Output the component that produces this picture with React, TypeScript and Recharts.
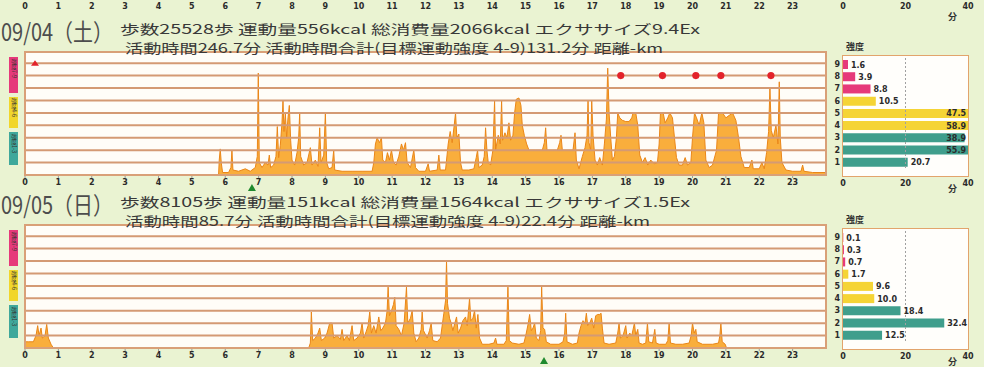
import { ComposedChart, Area, Scatter, XAxis, YAxis, CartesianGrid, ReferenceDot, ReferenceLine, BarChart, Bar, Cell, LabelList } from 'recharts'

// hour ticks (0-23) and intensity levels on the activity chart
const hourTicks = [0, 1, 2, 3, 4, 5, 6, 7, 8, 9, 10, 11, 12, 13, 14, 15, 16, 17, 18, 19, 20, 21, 22, 23]
const levelTicks = [0, 1, 2, 3, 4, 5, 6, 7, 8, 9]

// right-hand panel: minutes spent at each intensity level
const intensityLevels = ['9', '8', '7', '6', '5', '4', '3', '2', '1']
const minuteTicks = [0, 20, 40]
const day1Minutes = [1.6, 3.9, 8.8, 10.5, 47.5, 58.9, 38.9, 55.9, 20.7]
const day2Minutes = [0.1, 0.3, 0.7, 1.7, 9.6, 10.0, 18.4, 32.4, 12.5]

const day1Date = '09/04（土）'
const day1Line1 = '歩数25528歩 運動量556kcal 総消費量2066kcal エクササイズ9.4Ex'
const day1Line2 = '活動時間246.7分 活動時間合計(目標運動強度 4-9)131.2分 距離-km'
const day2Date = '09/05（日）'
const day2Line1 = '歩数8105歩 運動量151kcal 総消費量1564kcal エクササイズ1.5Ex'
const day2Line2 = '活動時間85.7分 活動時間合計(目標運動強度 4-9)22.4分 距離-km'

// [hour, intensity]
const day1Activity = [
  [0, 0], [5.8, 0], [5.82, 1.2], [5.85, 2.1], [5.88, 1.0], [5.92, 0.2],
  [6.1, 0.2], [6.17, 0.6], [6.2, 2.0], [6.23, 0.4], [6.4, 0.3], [6.6, 0.5], [6.75, 0.3], [6.9, 0.6],
  [6.96, 1.5], [6.99, 8.2], [7.02, 1.0], [7.1, 0.6], [7.2, 1.0], [7.28, 0.8], [7.32, 1.6], [7.36, 0.6],
  [7.45, 0.8], [7.52, 1.5], [7.56, 3.9], [7.6, 1.4], [7.65, 2.4], [7.7, 4.2], [7.73, 6.0], [7.76, 3.5],
  [7.8, 5.0], [7.84, 3.0], [7.88, 4.6], [7.92, 5.6], [7.96, 2.8], [8.0, 1.2], [8.08, 0.8], [8.15, 1.8],
  [8.2, 3.0], [8.23, 5.0], [8.26, 1.5], [8.35, 0.8], [8.45, 1.0], [8.55, 2.2], [8.6, 0.8], [8.7, 1.2],
  [8.78, 0.7], [8.83, 3.8], [8.87, 1.0], [8.95, 1.6], [9.0, 5.0], [9.04, 1.0], [9.1, 0.5],
  [9.2, 0.6], [9.25, 2.0], [9.28, 0.4], [9.5, 0.3], [9.8, 0.3], [10.1, 0.3], [10.4, 0.3],
  [10.45, 1.0], [10.5, 2.5], [10.55, 3.0], [10.62, 2.6], [10.68, 3.0], [10.72, 1.2], [10.8, 1.0],
  [10.86, 1.8], [10.92, 1.2], [10.98, 2.0], [11.04, 1.0], [11.12, 0.8], [11.2, 1.5], [11.28, 2.5],
  [11.34, 2.0], [11.4, 2.6], [11.45, 1.0], [11.55, 0.6], [11.65, 2.0], [11.7, 0.6], [11.8, 0.3],
  [12.0, 0.3], [12.08, 0.9], [12.12, 0.3], [12.35, 0.4], [12.4, 1.6], [12.44, 0.4], [12.6, 0.4],
  [12.68, 2.5], [12.74, 3.5], [12.8, 2.6], [12.86, 4.0], [12.9, 5.0], [12.94, 3.0], [13.0, 3.3],
  [13.05, 1.0], [13.1, 0.4], [13.3, 0.4], [13.45, 0.5], [13.52, 1.4], [13.56, 2.0], [13.6, 0.6],
  [13.7, 0.8], [13.76, 1.5], [13.8, 3.8], [13.84, 2.0], [13.88, 1.0], [13.95, 0.8], [14.02, 2.0],
  [14.07, 6.0], [14.1, 2.0], [14.18, 3.2], [14.24, 2.5], [14.28, 6.0], [14.31, 2.8], [14.38, 3.4],
  [14.44, 3.0], [14.5, 4.2], [14.55, 2.8], [14.62, 3.2], [14.67, 5.0], [14.72, 6.1], [14.8, 6.2],
  [14.86, 5.6], [14.9, 4.0], [14.96, 3.2], [15.03, 2.5], [15.1, 2.0], [15.3, 2.0], [15.5, 2.0],
  [15.56, 2.6], [15.6, 3.8], [15.64, 2.0], [15.8, 2.0], [15.95, 2.0], [16.02, 2.6], [16.06, 3.2],
  [16.1, 2.0], [16.3, 2.0], [16.42, 2.0], [16.48, 3.4], [16.52, 1.2], [16.6, 0.5], [16.7, 1.5],
  [16.78, 2.2], [16.84, 3.2], [16.87, 6.0], [16.9, 2.6], [16.95, 2.0], [16.98, 6.0], [17.02, 3.2],
  [17.08, 1.2], [17.15, 0.8], [17.22, 1.4], [17.3, 0.8], [17.36, 2.5], [17.42, 4.5], [17.46, 8.6],
  [17.5, 5.0], [17.55, 3.0], [17.6, 1.2], [17.66, 1.5], [17.72, 3.0], [17.76, 5.0], [17.82, 4.6],
  [17.9, 4.4], [18.0, 4.3], [18.1, 4.3], [18.18, 4.6], [18.22, 5.0], [18.3, 5.0], [18.36, 4.0],
  [18.42, 1.6], [18.5, 1.0], [18.58, 1.4], [18.66, 0.8], [18.75, 1.2], [18.85, 0.9], [18.95, 1.0],
  [19.0, 2.5], [19.04, 5.0], [19.12, 5.0], [19.18, 4.2], [19.26, 4.6], [19.32, 5.0], [19.4, 4.6],
  [19.46, 3.0], [19.52, 1.4], [19.6, 0.8], [19.7, 0.8], [19.78, 1.4], [19.85, 0.8], [19.95, 1.0],
  [20.0, 3.0], [20.06, 5.0], [20.12, 4.6], [20.2, 4.0], [20.28, 5.0], [20.34, 4.2], [20.4, 1.2],
  [20.5, 0.6], [20.6, 0.8], [20.72, 2.0], [20.78, 5.0], [20.9, 5.0], [21.0, 4.6], [21.1, 4.8],
  [21.2, 5.0], [21.3, 4.4], [21.38, 3.0], [21.45, 1.5], [21.55, 0.6], [21.7, 0.6], [21.78, 1.2],
  [21.82, 0.5], [22.0, 0.5], [22.08, 1.0], [22.15, 0.5], [22.22, 1.8], [22.28, 3.5], [22.32, 7.0],
  [22.36, 3.6], [22.42, 3.0], [22.5, 4.0], [22.56, 2.5], [22.6, 7.5], [22.63, 3.0], [22.68, 1.0],
  [22.8, 0.4], [23.0, 0.3], [23.25, 0.3], [23.3, 0.8], [23.34, 0.3], [23.6, 0.2], [24, 0.2],
]

const day2Activity = [
  [0, 0.5], [0.1, 0.5], [0.25, 0.5], [0.33, 1.0], [0.38, 1.8], [0.42, 1.0], [0.48, 1.6], [0.52, 0.8],
  [0.6, 1.0], [0.65, 1.9], [0.7, 0.8], [0.78, 0.3], [0.85, 0], [8.5, 0],
  [8.55, 0.4], [8.58, 2.9], [8.62, 0.6], [8.7, 0.8], [8.78, 1.2], [8.83, 1.6], [8.88, 0.6], [8.98, 0.8],
  [9.05, 1.2], [9.13, 2.0], [9.2, 2.0], [9.25, 0.8], [9.35, 1.0], [9.45, 0.7], [9.5, 1.5], [9.55, 0.6],
  [9.65, 1.0], [9.72, 0.6], [9.8, 1.8], [9.85, 0.6], [9.95, 0.8], [10.05, 1.2], [10.1, 2.0], [10.15, 0.8],
  [10.22, 1.3], [10.28, 1.8], [10.33, 2.9], [10.38, 1.2], [10.45, 1.8], [10.52, 1.2], [10.6, 2.5],
  [10.66, 1.4], [10.72, 1.6], [10.8, 2.0], [10.85, 3.0], [10.88, 4.9], [10.92, 2.6], [10.98, 3.0],
  [11.04, 3.5], [11.08, 4.1], [11.12, 1.8], [11.2, 1.5], [11.28, 1.0], [11.36, 2.0], [11.43, 4.9],
  [11.47, 2.0], [11.55, 2.4], [11.6, 3.0], [11.65, 1.2], [11.72, 0.5], [11.8, 0.8], [11.87, 1.5],
  [11.9, 2.9], [11.94, 1.4], [12.05, 0.8], [12.12, 1.4], [12.17, 2.0], [12.22, 0.6], [12.35, 0.5],
  [12.45, 0.8], [12.55, 2.8], [12.6, 3.8], [12.63, 7.0], [12.66, 3.6], [12.72, 2.4], [12.77, 2.0],
  [12.82, 1.4], [12.88, 2.0], [12.93, 2.5], [12.98, 1.2], [13.05, 1.6], [13.12, 2.2], [13.2, 2.5],
  [13.25, 1.8], [13.32, 4.0], [13.36, 2.2], [13.42, 2.4], [13.47, 3.0], [13.52, 1.6], [13.57, 2.7],
  [13.62, 0.8], [13.7, 0.3], [13.9, 0.3], [14.05, 0.4], [14.1, 0.8], [14.14, 0.3], [14.35, 0.3],
  [14.42, 0.6], [14.47, 4.9], [14.51, 0.6], [14.6, 0.4], [14.8, 0.3], [14.95, 0.4], [15.02, 1.2],
  [15.08, 2.0], [15.12, 2.7], [15.17, 1.4], [15.22, 1.6], [15.27, 2.0], [15.32, 0.8], [15.4, 0.6],
  [15.45, 1.4], [15.48, 4.9], [15.52, 1.6], [15.57, 1.5], [15.62, 0.5], [15.75, 0.3], [16.0, 0.3],
  [16.12, 0.5], [16.17, 1.2], [16.2, 2.8], [16.24, 0.5], [16.4, 0.3], [16.55, 0.4], [16.6, 1.2],
  [16.66, 1.8], [16.72, 2.2], [16.78, 2.0], [16.82, 2.8], [16.86, 1.8], [16.92, 2.0], [16.98, 2.4],
  [17.04, 1.6], [17.1, 2.6], [17.16, 2.7], [17.22, 2.7], [17.26, 2.8], [17.3, 1.6], [17.35, 0.4],
  [17.5, 0.3], [17.7, 0.4], [17.76, 1.2], [17.8, 2.0], [17.84, 0.8], [17.92, 1.0], [18.0, 1.8],
  [18.04, 0.8], [18.12, 1.2], [18.18, 1.0], [18.26, 2.0], [18.3, 1.0], [18.36, 1.5], [18.4, 0.4],
  [18.5, 0.3], [18.6, 0.4], [18.65, 2.0], [18.69, 0.5], [18.8, 0.4], [18.87, 1.5], [18.91, 0.4],
  [19.0, 0.3], [19.2, 0.3], [19.26, 0.6], [19.3, 2.0], [19.34, 0.4], [19.5, 0.3], [19.7, 0.3],
  [19.9, 0.4], [19.96, 1.0], [20.0, 2.0], [20.05, 1.2], [20.1, 1.5], [20.14, 0.5], [20.3, 0.3],
  [20.6, 0.3], [20.78, 0.4], [20.82, 1.0], [20.85, 2.0], [20.89, 0.5], [20.98, 0.3], [21.02, 0], [24, 0],
]

// red target markers (level 8) and the small marker at level 9
const day1Targets = [[17.85, 8], [19.1, 8], [20.1, 8], [20.85, 8], [22.35, 8]]
const day1Markers = [[0.3, 9]]
const day2Targets: number[][] = []
const day2Markers: number[][] = []

// green triangle below the hour axis
const day1TriangleHour = 6.8
const day2TriangleHour = 15.55

const toPoints = (pairs: number[][]) => pairs.map(([hour, level]) => ({ hour, level }))

const PANEL_STEP = 173
const PLOT_LEFT = 25
const PLOT_WIDTH = 801
const BAR_PLOT_RIGHT = 148
const jpFont = '"Noto Sans CJK JP", "Noto Sans", sans-serif'
const tickStyle = { fontSize: 8, fontWeight: 700, fill: '#2b2b2b', fontFamily: 'DejaVu Sans' }

const levelColor = (level: string) => {
  const n = Number(level)
  if (n >= 7) return '#e6397a'
  if (n >= 4) return '#f5d435'
  return '#3f9e8c'
}

function RedDot(props: any) {
  return <circle cx={props.cx} cy={props.cy} r={3.6} fill="#e3232b" />
}

function RedTriangle(props: any) {
  const { cx, cy } = props
  return <path d={`M${cx - 4},${cy + 2.5} L${cx},${cy - 3} L${cx + 4},${cy + 2.5} Z`} fill="#e3232b" />
}

function GreenTriangle(props: any) {
  const { cx, cy } = props
  return <path d={`M${cx - 4},${cy + 3} L${cx},${cy - 4} L${cx + 4},${cy + 3} Z`} fill="#1f8a2e" />
}

function BarValueLabel(props: any) {
  const { x, y, width, height, value } = props
  const end = x + width
  const inside = value >= 36
  return (
    <text
      x={inside ? BAR_PLOT_RIGHT - 2 : end + 3}
      y={y + height / 2 + 3}
      textAnchor={inside ? 'end' : 'start'}
      fontSize={8}
      fontWeight={700}
      fontFamily="DejaVu Sans"
      fill="#2b2b2b"
    >
      {Number(value).toFixed(1)}
    </text>
  )
}

function DayPanel({ offsetY, activity, targets, markers, triangleHour, minutes }: any) {
  const barData = intensityLevels.map((level, i) => ({ level, minutes: minutes[i] }))
  return (
    <>
      {/* intensity colour strip on the left */}
      <div style={{ position: 'absolute', left: 9, top: offsetY + 57, width: 9, height: 36, background: '#e6397a' }} />
      <div style={{ position: 'absolute', left: 9, top: offsetY + 97, width: 9, height: 31, background: '#f1d62a' }} />
      <div style={{ position: 'absolute', left: 9, top: offsetY + 132, width: 9, height: 33, background: '#3fa89b' }} />
      {['強度7-9', '強度4-6', '強度1-3'].map((t, i) => (
        <div key={t} style={{ position: 'absolute', left: 10, top: offsetY + [59, 98, 134][i], fontSize: 5.5, lineHeight: '7px', writingMode: 'vertical-rl', color: '#333', fontFamily: jpFont }}>{t}</div>
      ))}

      <div style={{ position: 'absolute', left: 0, top: offsetY + 40 }}>
        <ComposedChart width={840} height={155} data={toPoints(activity)} margin={{ top: 12, right: 14, bottom: 6, left: PLOT_LEFT }}>
          <CartesianGrid vertical={false} horizontal={false} fill="#fffdf8" />
          <XAxis dataKey="hour" type="number" domain={[0, 24]} ticks={hourTicks} interval={0} height={14}
            tickSize={3} tickMargin={1} axisLine={false} tickLine={{ stroke: '#9a9a9a' }} tick={tickStyle} />
          <YAxis type="number" domain={[0, 9.9]} ticks={levelTicks} width={0} tick={false} axisLine={false} tickLine={false} allowDataOverflow />
          {levelTicks.map((lv) => (
            <ReferenceLine key={lv} y={lv} stroke="#d49a74" strokeWidth={2} />
          ))}
          <Area dataKey="level" type="linear" stroke="#ea8618" strokeWidth={1} fill="#f9ae3c" fillOpacity={1}
            dot={false} activeDot={false} isAnimationActive={false} />
          {targets.length > 0 && <Scatter data={toPoints(targets)} dataKey="level" shape={RedDot} isAnimationActive={false} />}
          {markers.length > 0 && <Scatter data={toPoints(markers)} dataKey="level" shape={RedTriangle} isAnimationActive={false} />}
          <ReferenceDot x={triangleHour} y={-1.05} r={4} ifOverflow="visible" shape={GreenTriangle} />
        </ComposedChart>
      </div>
      {/* plot frame */}
      <div style={{ position: 'absolute', left: PLOT_LEFT - 1, top: offsetY + 51, width: PLOT_WIDTH + 2, height: 125, boxSizing: 'border-box', border: '2px solid #d9a078', pointerEvents: 'none' }} />

      {/* minutes per intensity */}
      <div style={{ position: 'absolute', left: 842, top: offsetY + 55, width: 127, height: 122, boxSizing: 'border-box', background: '#fffefb', border: '1.5px solid #e2a46c' }} />
      <div style={{ position: 'absolute', left: 820, top: offsetY + 40 }}>
        <BarChart width={160} height={150} data={barData} layout="vertical" margin={{ top: 18, right: 12, bottom: 2, left: 9 }}>
          <XAxis type="number" domain={[0, 40]} ticks={minuteTicks} allowDataOverflow height={20} tickSize={0} tickMargin={12}
            axisLine={false} tick={tickStyle} />
          <YAxis type="category" dataKey="level" width={14} interval={0} tickSize={0} tickMargin={3} axisLine={false} tick={tickStyle} />
          <ReferenceLine x={20} stroke="#a0a0a0" strokeDasharray="2 2" />
          <Bar dataKey="minutes" barSize={9} isAnimationActive={false}>
            {barData.map((d) => <Cell key={d.level} fill={levelColor(d.level)} />)}
            <LabelList dataKey="minutes" content={BarValueLabel} />
          </Bar>
        </BarChart>
      </div>
      <div style={{ position: 'absolute', left: 846, top: offsetY + 40, fontSize: 9, fontWeight: 700, color: '#333', fontFamily: jpFont }}>強度</div>
      <div style={{ position: 'absolute', left: 948, top: offsetY + 182, fontSize: 9, fontWeight: 700, color: '#333', fontFamily: jpFont }}>分</div>
    </>
  )
}

function Header({ offsetY, date, line1, line2, w1, w2 }: any) {
  return (
    <>
      <text x={1} y={offsetY + 41} fontSize={24} textLength={112} lengthAdjust="spacingAndGlyphs" fill="#4d4d4d" fontFamily={jpFont}>{date}</text>
      <text x={120} y={offsetY + 34} fontSize={13} textLength={w1} lengthAdjust="spacingAndGlyphs" fill="#383838" fontFamily={jpFont}>{line1}</text>
      <text x={125} y={offsetY + 53} fontSize={13} textLength={w2} lengthAdjust="spacingAndGlyphs" fill="#383838" fontFamily={jpFont}>{line2}</text>
    </>
  )
}

export default function App() {
  return (
    <div style={{ position: 'absolute', left: 0, top: 0, width: 984, height: 367, overflow: 'hidden', background: '#eaf3d2' }}>
      <DayPanel offsetY={0} activity={day1Activity} targets={day1Targets} markers={day1Markers} triangleHour={day1TriangleHour} minutes={day1Minutes} />
      <DayPanel offsetY={PANEL_STEP} activity={day2Activity} targets={day2Targets} markers={day2Markers} triangleHour={day2TriangleHour} minutes={day2Minutes} />
      <svg width={984} height={367} style={{ position: 'absolute', left: 0, top: 0, pointerEvents: 'none' }}>
        {/* remnants of the previous day's axes at the very top */}
        {hourTicks.map((h) => (
          <text key={h} x={PLOT_LEFT + (h * PLOT_WIDTH) / 24} y={9} textAnchor="middle" {...tickStyle}>{h}</text>
        ))}
        {minuteTicks.map((m) => (
          <text key={m} x={843 + (m * 125) / 40} y={9} textAnchor="middle" {...tickStyle}>{m}</text>
        ))}
        <text x={948} y={20} fontSize={9} fontWeight={700} fill="#333" fontFamily={jpFont}>分</text>
        <Header offsetY={0} date={day1Date} line1={day1Line1} line2={day1Line2} w1={580} w2={538} />
        <Header offsetY={PANEL_STEP} date={day2Date} line1={day2Line1} line2={day2Line2} w1={570} w2={525} />
      </svg>
    </div>
  )
}
